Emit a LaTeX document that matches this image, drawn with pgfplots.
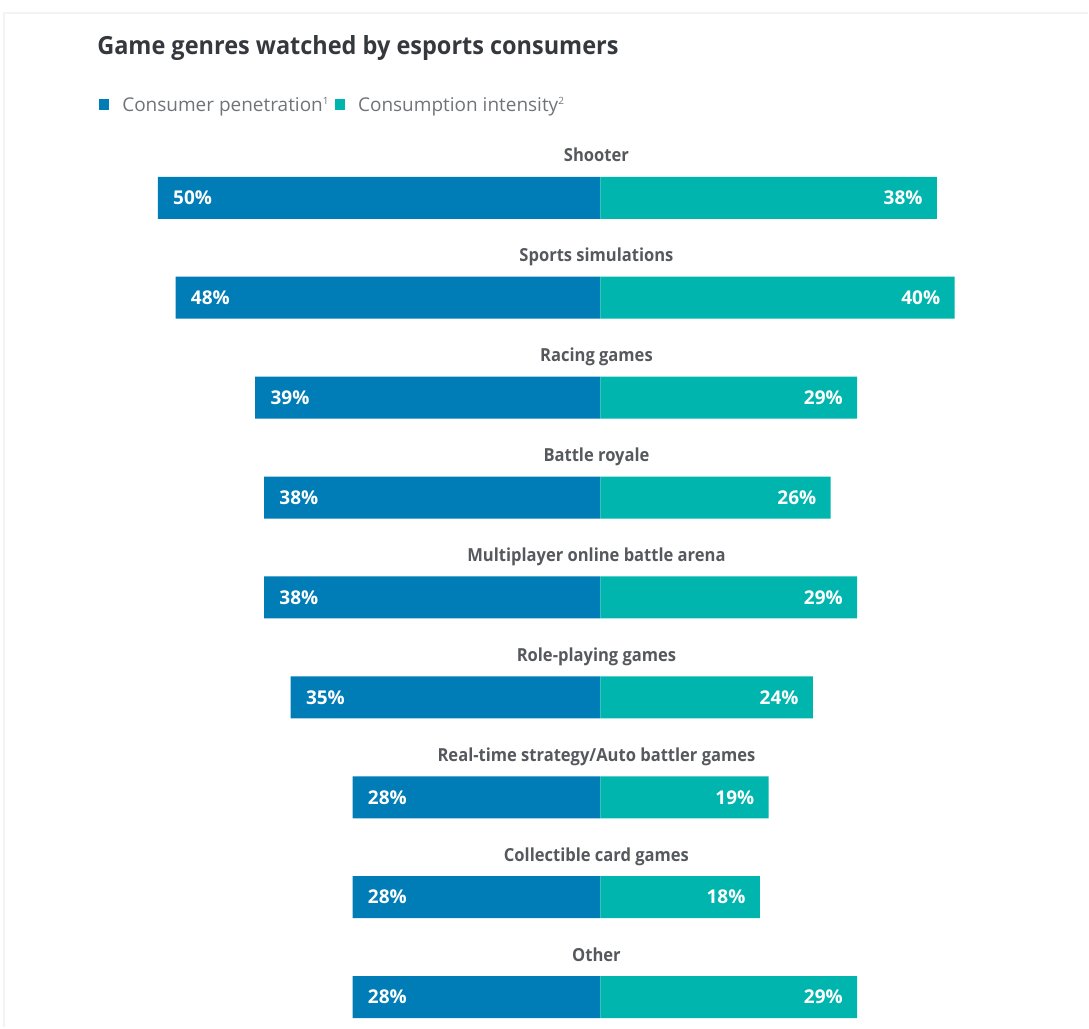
\documentclass[border=0pt]{standalone}
\usepackage{fontspec}
\setmainfont{Open Sans}
\newfontfamily\condt[FakeStretch=0.94]{Open Sans}
\newfontfamily\condc[FakeStretch=0.92]{Open Sans}
\usepackage{pgfplots}
\usepackage{pgfplotstable}
\pgfplotsset{compat=1.18}
\definecolor{cblue}{HTML}{007CB6}
\definecolor{cteal}{HTML}{00B5AD}
\definecolor{ctitle}{HTML}{35383D}
\definecolor{ccat}{HTML}{55585D}
\definecolor{cleg}{HTML}{707377}
\definecolor{cframe}{HTML}{F3F3F3}
\pgfplotstableread[col sep=comma]{
y,pen,int,label
830,50,38,Shooter
730,48,40,Sports simulations
630,39,29,Racing games
530,38,26,Battle royale
430,38,29,Multiplayer online battle arena
330,35,24,Role-playing games
230,28,19,Real-time strategy/Auto battler games
130,28,18,Collectible card games
30,28,29,Other
}\datatable
\begin{document}
\begin{tikzpicture}
\begin{axis}[
  scale only axis, width=544.5pt, height=514pt,
  xmin=-67.833, xmax=55.08, ymin=0, ymax=1028,
  hide axis, clip=false,
  /pgf/number format/assume math mode=true,
]
\path (rel axis cs:0,0) rectangle (rel axis cs:1,1);
\draw[cframe, line width=1pt] (rel axis cs:{4/1089},0) -- (rel axis cs:{4/1089},{1-13/1028}) -- (rel axis cs:1,{1-13/1028});
\addplot[xbar, bar width=42, bar shift=0pt, fill=cblue, draw=none,
  point meta=\thisrow{pen},
  nodes near coords={\pgfmathprintnumber{\pgfplotspointmeta}\%},
  every node near coord/.append style={anchor=west, inner sep=0pt, xshift=7.5pt, text=white, font=\bfseries\fontsize{9.5pt}{10pt}\selectfont}]
  table[x expr=-\thisrow{pen}, y=y] {\datatable};
\addplot[xbar, bar width=42, bar shift=0pt, fill=cteal, draw=none,
  point meta=\thisrow{int},
  nodes near coords={\pgfmathprintnumber{\pgfplotspointmeta}\%},
  every node near coord/.append style={anchor=east, inner sep=0pt, xshift=-7pt, text=white, font=\bfseries\fontsize{9.5pt}{10pt}\selectfont}]
  table[x=int, y=y] {\datatable};
\addplot[draw=none, mark=none, point meta=explicit symbolic,
  nodes near coords,
  every node near coord/.append style={anchor=base, inner sep=0pt, text=ccat, font=\condc\bfseries\fontsize{9pt}{10pt}\selectfont}]
  table[x expr=-0.45, y expr=\thisrow{y}+36, meta=label] {\datatable};
\node[anchor=base west, inner sep=0pt, text=ctitle, font=\condt\bfseries\fontsize{12.5pt}{14pt}\selectfont]
  at (rel axis cs:{97/1089},{1-55/1028}) {Game genres watched by esports consumers};
\fill[cblue] (rel axis cs:{99/1089},{1-99/1028}) rectangle (rel axis cs:{109/1089},{1-110/1028});
\node[anchor=base west, inner sep=0pt, text=cleg, font=\fontsize{9.5pt}{10pt}\selectfont]
  at (rel axis cs:{122/1089},{1-112/1028}) {Consumer penetration\textsuperscript{\fontsize{5pt}{6pt}\selectfont 1}};
\fill[cteal] (rel axis cs:{335/1089},{1-99/1028}) rectangle (rel axis cs:{345/1089},{1-110/1028});
\node[anchor=base west, inner sep=0pt, text=cleg, font=\fontsize{9.5pt}{10pt}\selectfont]
  at (rel axis cs:{358/1089},{1-112/1028}) {Consumption intensity\textsuperscript{\fontsize{5pt}{6pt}\selectfont 2}};
\end{axis}
\end{tikzpicture}
\end{document}
